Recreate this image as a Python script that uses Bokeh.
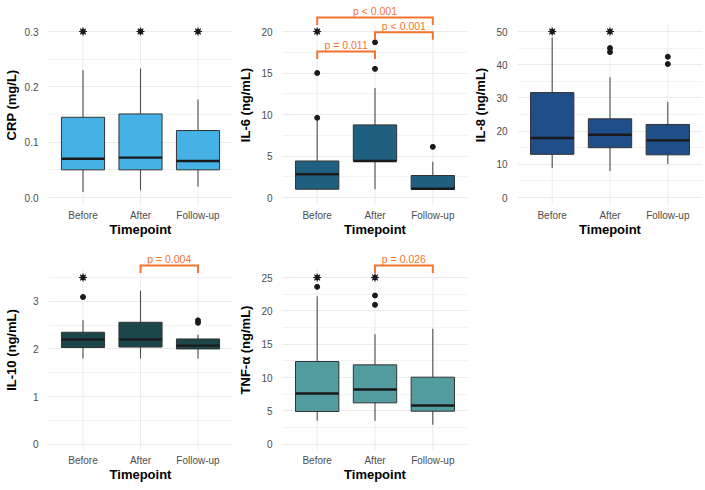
from bokeh.plotting import figure
from bokeh.layouts import row, column
from bokeh.models import Range1d, FixedTicker
from bokeh.core.properties import value
from bokeh.embed import file_html
from bokeh.resources import INLINE

# ---------------- data ----------------
categories = ["Before", "After", "Follow-up"]
x_title = "Timepoint"

# CRP (mg/L)
crp_lo = [0.010, 0.013, 0.020]
crp_q1 = [0.050, 0.050, 0.050]
crp_med = [0.070, 0.072, 0.066]
crp_q3 = [0.145, 0.151, 0.121]
crp_hi = [0.230, 0.233, 0.177]
crp_outliers = [[], [], []]
crp_star = [0.3, 0.3, 0.3]
crp_ticks = [0.0, 0.1, 0.2, 0.3]
crp_tick_labels = ["0.0", "0.1", "0.2", "0.3"]
crp_minor = [0.05, 0.15, 0.25]
crp_pvals = []

# IL-6 (ng/mL)
il6_lo = [1.0, 1.0, 1.0]
il6_q1 = [1.0, 4.4, 1.0]
il6_med = [2.8, 4.4, 1.05]
il6_q3 = [4.4, 8.75, 2.65]
il6_hi = [9.3, 13.2, 4.3]
il6_outliers = [[9.6, 15.0], [15.5, 18.7], [6.1]]
il6_star = [20.0, None, None]
il6_ticks = [0, 5, 10, 15, 20]
il6_tick_labels = ["0", "5", "10", "15", "20"]
il6_minor = [2.5, 7.5, 12.5, 17.5]
il6_pvals = [("Before", "After", "p = 0.011", 17.6),
             ("After", "Follow-up", "p < 0.001", 19.9),
             ("Before", "Follow-up", "p < 0.001", 21.7)]

# IL-8 (ng/mL)
il8_lo = [8.9, 8.0, 10.1]
il8_q1 = [13.0, 15.0, 12.85]
il8_med = [17.9, 18.9, 17.2]
il8_q3 = [31.6, 23.7, 22.0]
il8_hi = [48.3, 36.2, 28.8]
il8_outliers = [[], [43.8, 45.0], [40.2, 42.4]]
il8_star = [50.0, 50.0, None]
il8_ticks = [0, 10, 20, 30, 40, 50]
il8_tick_labels = ["0", "10", "20", "30", "40", "50"]
il8_minor = [5, 15, 25, 35, 45]
il8_pvals = []

# IL-10 (ng/mL)
il10_lo = [1.8, 1.8, 1.8]
il10_q1 = [2.03, 2.04, 2.0]
il10_med = [2.2, 2.2, 2.07]
il10_q3 = [2.35, 2.56, 2.21]
il10_hi = [2.6, 3.22, 2.3]
il10_outliers = [[3.09], [], [2.55, 2.6]]
il10_star = [3.5, None, None]
il10_ticks = [0, 1, 2, 3]
il10_tick_labels = ["0", "1", "2", "3"]
il10_minor = [0.5, 1.5, 2.5, 3.5]
il10_pvals = [("After", "Follow-up", "p = 0.004", 3.75)]

# TNF-α (ng/mL)
tnf_lo = [3.5, 3.5, 2.9]
tnf_q1 = [4.9, 6.2, 4.95]
tnf_med = [7.6, 8.2, 5.8]
tnf_q3 = [12.4, 11.9, 10.05]
tnf_hi = [22.2, 16.5, 17.3]
tnf_outliers = [[23.6], [20.9, 22.3], []]
tnf_star = [25.0, 25.0, None]
tnf_ticks = [0, 5, 10, 15, 20, 25]
tnf_tick_labels = ["0", "5", "10", "15", "20", "25"]
tnf_minor = [2.5, 7.5, 12.5, 17.5, 22.5]
tnf_pvals = [("After", "Follow-up", "p = 0.026", 26.8)]

# ---------------- styling ----------------
FONT = "Liberation Sans"
GRID = "#EBEBEB"
ORANGE = "#F47432"
DARK = "#1A1A1A"


def label_w(s):
    return sum(5.56 if ch.isdigit() else 2.8 for ch in s)


def panel(ylabel, color, lo, q1, med, q3, hi, outliers, stars, ticks, tick_labels,
          minor, pvals, zero_px, max_px):
    W, H = 235, 245
    left, right, top, bottom = 43, 3, 4, 40
    frame_bottom = H - bottom
    ymax = max([s for s in stars if s is not None] + [max(h) if h else 0 for h in outliers] + hi)
    ppu = (zero_px - max_px) / ymax
    y0 = -(frame_bottom - zero_px) / ppu
    y1 = ymax + (max_px - top) / ppu
    p = figure(width=W, height=H, x_range=Range1d(0.4, 3.6), y_range=Range1d(y0, y1),
               output_backend="svg", toolbar_location=None,
               min_border_left=left, min_border_right=right,
               min_border_top=top, min_border_bottom=bottom)
    p.outline_line_color = None
    p.background_fill_color = "white"
    p.border_fill_color = "white"
    xs = [i + 1 for i in range(len(categories))]

    # vertical grid lines (panel area only)
    p.segment(x0=xs, x1=xs, y0=[y0] * 3, y1=[ymax * 1.05] * 3, line_color=GRID, line_width=1)

    # whiskers
    p.segment(x0=xs, x1=xs, y0=lo, y1=hi, line_color="#4D4D4D", line_width=1.1)
    # boxes
    p.vbar(x=xs, width=0.75, bottom=q1, top=q3, fill_color=color,
           line_color="#333333", line_width=1)
    # medians
    p.segment(x0=[x - 0.375 for x in xs], x1=[x + 0.375 for x in xs], y0=med, y1=med,
              line_color=DARK, line_width=2.4)
    # outliers
    ox, oy = [], []
    for x, vals in zip(xs, outliers):
        for v in vals:
            ox.append(x)
            oy.append(v)
    if ox:
        p.scatter(x=ox, y=oy, size=5, fill_color=DARK, line_color=DARK)
    sx = [x for x, s in zip(xs, stars) if s is not None]
    sy = [s for s in stars if s is not None]
    if sx:
        p.scatter(x=sx, y=sy, size=4.5, fill_color=DARK, line_color=DARK)
        p.scatter(x=sx, y=sy, marker="asterisk", size=8, line_color=DARK, line_width=1.2)

    # significance brackets
    leg = 7.5 / ppu
    for a, b, lab, yb in pvals:
        xa = categories.index(a) + 1
        xb = categories.index(b) + 1
        p.multi_line(xs=[[xa, xa, xb, xb]], ys=[[yb - leg, yb, yb, yb - leg]],
                     line_color=ORANGE, line_width=2, line_join="miter")
        p.text(x=[(xa + xb) / 2], y=[yb], text=[lab], text_align="center",
               text_baseline="middle", y_offset=-6.5, text_color=ORANGE,
               text_font=value(FONT), text_font_size="10.5px")

    # axes
    xt = FixedTicker(ticks=xs)
    p.xaxis.ticker = xt
    p.xaxis.major_label_overrides = {x: c for x, c in zip(xs, categories)}
    p.xaxis.axis_label = x_title
    p.xaxis.major_label_standoff = 4
    p.xaxis.axis_label_standoff = -2

    yt = FixedTicker(ticks=ticks, minor_ticks=minor)
    p.yaxis.ticker = yt
    p.yaxis.major_label_overrides = {t: l for t, l in zip(ticks, tick_labels)}
    p.yaxis.axis_label = ylabel
    p.yaxis.major_label_standoff = 6
    wmax = max(label_w(l) for l in tick_labels)
    p.yaxis.axis_label_standoff = max(0, int(round(16.5 - wmax)))

    for ax in (p.xaxis, p.yaxis):
        ax.axis_line_color = None
        ax.major_tick_line_color = None
        ax.minor_tick_line_color = None
        ax.major_tick_out = 0
        ax.major_tick_in = 0
        ax.major_label_text_font = FONT
        ax.major_label_text_font_size = "10px"
        ax.major_label_text_color = "#4D4D4D"
        ax.axis_label_text_font = FONT
        ax.axis_label_text_font_size = "13px"
        ax.axis_label_text_font_style = "bold"
        ax.axis_label_text_color = "black"

    p.xgrid.visible = False
    p.ygrid.ticker = yt
    p.ygrid.grid_line_color = GRID
    p.ygrid.grid_line_width = 1
    p.ygrid.minor_grid_line_color = GRID
    p.ygrid.minor_grid_line_width = 0.6
    return p


p1 = panel("CRP (mg/L)", "#46B1E4", crp_lo, crp_q1, crp_med, crp_q3, crp_hi, crp_outliers,
           crp_star, crp_ticks, crp_tick_labels, crp_minor, crp_pvals, 197, 31)
p2 = panel("IL-6 (ng/mL)", "#1F6080", il6_lo, il6_q1, il6_med, il6_q3, il6_hi, il6_outliers,
           il6_star, il6_ticks, il6_tick_labels, il6_minor, il6_pvals, 197, 31)
p3 = panel("IL-8 (ng/mL)", "#1F4E88", il8_lo, il8_q1, il8_med, il8_q3, il8_hi, il8_outliers,
           il8_star, il8_ticks, il8_tick_labels, il8_minor, il8_pvals, 197, 31)
p4 = panel("IL-10 (ng/mL)", "#1B474B", il10_lo, il10_q1, il10_med, il10_q3, il10_hi,
           il10_outliers, il10_star, il10_ticks, il10_tick_labels, il10_minor, il10_pvals,
           198.7, 32)
p5 = panel("TNF-α (ng/mL)", "#529CA0", tnf_lo, tnf_q1, tnf_med, tnf_q3, tnf_hi, tnf_outliers,
           tnf_star, tnf_ticks, tnf_tick_labels, tnf_minor, tnf_pvals, 198.7, 32)

layout = column(row(p1, p2, p3), row(p4, p5))
open("out.html", "w").write(file_html(layout, INLINE))
